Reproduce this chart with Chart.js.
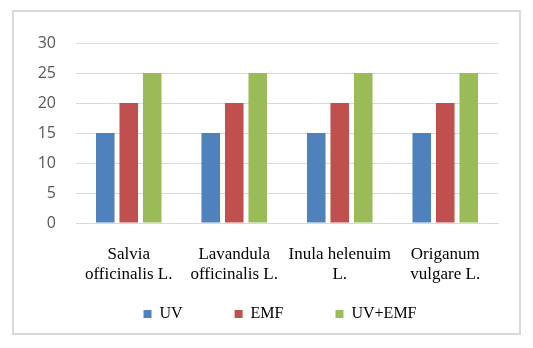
<!DOCTYPE html>
<html>
<head>
<meta charset="utf-8">
<script src="https://cdn.jsdelivr.net/npm/chart.js@4"></script>
<style>
  html, body { margin: 0; padding: 0; background: #fff; }
  #wrap { width: 533px; height: 348px; }
</style>
</head>
<body>
<div id="wrap"><canvas id="chart" width="533" height="348"></canvas></div>
<script>
const categories = [
  ["Salvia", "officinalis L."],
  ["Lavandula", "officinalis L."],
  ["Inula helenuim", "L."],
  ["Origanum", "vulgare L."],
];
const uvValues = [15, 15, 15, 15];
const emfValues = [20, 20, 20, 20];
const uvEmfValues = [25, 25, 25, 25];
const yTicks = [0, 5, 10, 15, 20, 25, 30];

const serif = "'Liberation Serif', 'Times New Roman', serif";

// outer frame like the office chart border
const framePlugin = {
  id: "frame",
  beforeDraw(chart) {
    const ctx = chart.ctx;
    ctx.save();
    ctx.fillStyle = "#ffffff";
    ctx.fillRect(0, 0, chart.width, chart.height);
    ctx.strokeStyle = "#d9d9d9";
    ctx.lineWidth = 2;
    ctx.strokeRect(13, 11, 507, 323);
    ctx.restore();
  },
};

// legend has a wide item gap, pull it up under the labels and a bit right
const legendShift = {
  id: "legendShift",
  afterLayout(chart) {
    const legend = chart.legend;
    legend.top = chart.scales.x.top + 31;
    legend.bottom = chart.height;
    legend.left += 31;
    legend.right += 31;
  },
};

const ctx = document.getElementById("chart").getContext("2d");
new Chart(ctx, {
  type: "bar",
  data: {
    labels: categories,
    datasets: [
      { label: "UV", data: uvValues, backgroundColor: "#4f81bd" },
      { label: "EMF", data: emfValues, backgroundColor: "#c0504d" },
      { label: "UV+EMF", data: uvEmfValues, backgroundColor: "#9bbb59" },
    ],
  },
  plugins: [framePlugin, legendShift],
  options: {
    responsive: false,
    animation: false,
    layout: { padding: { left: 0, right: 35, top: 43, bottom: 0 } },
    datasets: {
      bar: { categoryPercentage: 0.668, barPercentage: 0.79 },
    },
    scales: {
      x: {
        grid: { display: false },
        border: { color: "#d9d9d9", width: 1 },
        ticks: {
          color: "#000",
          font: { family: serif, size: 17 },
          padding: 13,
          autoSkip: false,
          minRotation: 0,
          maxRotation: 0,
        },
        afterFit(scale) {
          scale.height = 70;
        },
      },
      y: {
        min: 0,
        max: 30,
        afterBuildTicks(scale) {
          scale.ticks = yTicks.map((v) => ({ value: v }));
        },
        grid: { color: "#d9d9d9", drawTicks: false },
        border: { display: false },
        ticks: {
          color: "#595959",
          font: { family: "'Open Sans', sans-serif", size: 16 },
          padding: 20,
        },
        afterFit(scale) {
          scale.width = 76;
        },
      },
    },
    plugins: {
      tooltip: { enabled: false },
      legend: {
        position: "bottom",
        maxHeight: 55,
        labels: {
          boxWidth: 8,
          boxHeight: 8,
          padding: 52,
          color: "#000",
          font: { family: serif, size: 16 },
        },
      },
    },
  },
});
</script>
</body>
</html>
